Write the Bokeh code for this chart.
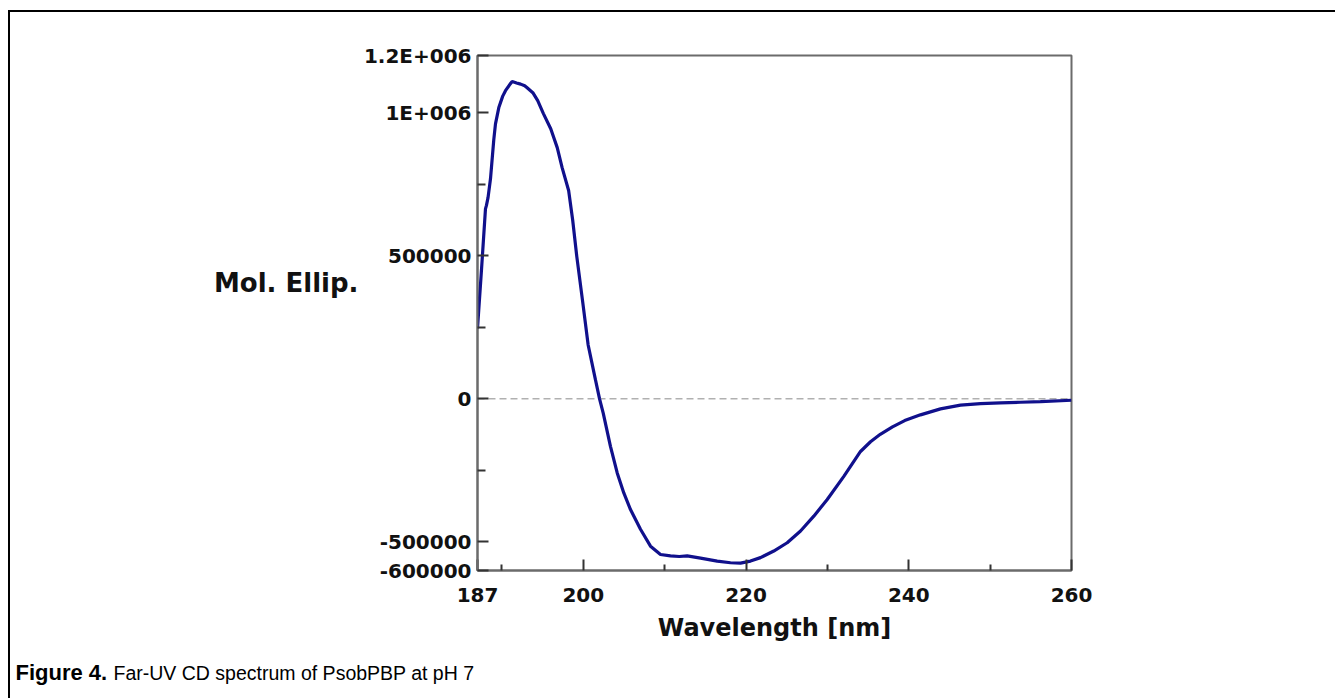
from bokeh.plotting import figure
from bokeh.layouts import column, row
from bokeh.models import Range1d, FixedTicker, Label, Span
from bokeh.embed import file_html
from bokeh.resources import INLINE

# ---- data ----
wavelength = [187.0, 187.5, 187.98, 188.1, 188.3, 188.6, 189.0, 189.21, 189.62, 190.1,
              190.44, 191.0, 191.26, 191.8, 192.3, 192.8, 193.1, 193.8, 194.4, 195.1,
              196.0, 196.8, 197.4, 198.2, 198.7, 199.2, 199.9, 200.6, 201.5, 202.0,
              202.45, 203.34, 204.17, 204.98, 205.8, 207.03, 208.26, 209.49, 210.72, 211.8,
              212.77, 214.41, 216.46, 218.09, 219.32, 220.55, 221.78, 223.41, 225.06, 226.7,
              228.33, 229.98, 232.02, 234.07, 235.3, 236.5, 238.0, 239.5, 241.44, 243.9,
              246.36, 248.82, 251.27, 253.73, 256.19, 260.0]
mol_ellip = [246000, 455000, 664000, 676000, 704000, 770000, 905000, 961000, 1018000, 1058000,
             1077000, 1100000, 1109000, 1104000, 1100000, 1094000, 1087000, 1070000, 1042000, 997000,
             944000, 878000, 808000, 728000, 624000, 498000, 345000, 188000, 66000, 0,
             -50000, -166000, -259000, -329000, -387000, -456000, -515000, -544000, -549000, -551000,
             -549000, -557000, -567000, -573000, -574000, -567000, -555000, -532000, -503000, -462000,
             -410000, -352000, -271000, -184000, -150000, -124000, -98000, -76000, -56000, -35000,
             -22000, -17000, -14000, -12000, -10000, -5000]

x_major_ticks = [187, 200, 220, 240, 260]
x_minor_ticks = [190, 210, 230, 250]
y_major_ticks = [-600000, -500000, 0, 500000, 1000000, 1200000]
y_minor_ticks = [-250000, 250000, 750000]
y_tick_labels = ["-600000", "-500000", "0", "500000", "1E+006", "1.2E+006"]

x_title = "Wavelength [nm]"
y_title = "Mol. Ellip."
caption_bold = "Figure 4."
caption_text = "Far-UV CD spectrum of PsobPBP at pH 7"

X0, X1 = 187, 260
Y0, Y1 = -600000, 1200000

# ---- page geometry ----
OFF_X, OFF_Y = 10, 12                  # content origin on the page (margin + border)
FL, FR, FT, FB = 477, 1071, 55, 570    # chart frame edges on the page
W = 1325                               # total content width
YW = 350                               # width of the strip holding the y title
H_MAIN, H_CAP = 640, 46
PW = W - YW
P_LEFT = OFF_X + YW                    # page x of the chart canvas

# ---- left strip with the horizontal y title ----
yfig = figure(width=YW, height=H_MAIN, output_backend="svg", toolbar_location=None,
              x_axis_type=None, y_axis_type=None, x_range=Range1d(0, 1), y_range=Range1d(0, 1),
              min_border=0, outline_line_color=None)
yfig.frame_align = False
yfig.add_layout(Label(x=358 - OFF_X, y=OFF_Y + H_MAIN - 282, x_units="screen", y_units="screen",
                      text=y_title, text_font="DejaVu Sans", text_font_style="bold",
                      text_font_size="26px", text_color="#111111",
                      text_align="right", text_baseline="middle"))

# ---- chart ----
p = figure(width=PW, height=H_MAIN, output_backend="svg", toolbar_location=None,
           x_range=Range1d(X0, X1), y_range=Range1d(Y0, Y1))
p.frame_align = False
p.min_border_left = FL - P_LEFT
p.min_border_top = FT - OFF_Y
p.min_border_right = PW - (FR - P_LEFT)
p.min_border_bottom = H_MAIN - (FB - OFF_Y)

p.xgrid.visible = False
p.ygrid.visible = False
p.outline_line_color = "#6b6b6b"
p.outline_line_width = 2

p.add_layout(Span(location=0, dimension="width", line_color="#8a8a8a",
                  line_width=1, line_dash="7 4", level="underlay"))

p.line(wavelength, mol_ellip, line_color="#10108c", line_width=3.2)

xa = p.xaxis[0]
xa.ticker = FixedTicker(ticks=x_major_ticks, minor_ticks=x_minor_ticks)
xa.axis_line_color = "#6b6b6b"
xa.axis_line_width = 2
xa.major_tick_in = 11
xa.major_tick_out = 0
xa.minor_tick_in = 6
xa.minor_tick_out = 0
xa.major_tick_line_color = "#333333"
xa.minor_tick_line_color = "#333333"
xa.major_tick_line_width = 2
xa.minor_tick_line_width = 2
xa.major_label_text_font = "DejaVu Sans"
xa.major_label_text_font_style = "bold"
xa.major_label_text_font_size = "20px"
xa.major_label_text_color = "#111111"
xa.major_label_standoff = 17
xa.axis_label = x_title
xa.axis_label_text_font = "DejaVu Sans"
xa.axis_label_text_font_style = "bold"
xa.axis_label_text_font_size = "24px"
xa.axis_label_text_color = "#111111"
xa.axis_label_standoff = 9

ya = p.yaxis[0]
ya.ticker = FixedTicker(ticks=y_major_ticks, minor_ticks=y_minor_ticks)
ya.major_label_overrides = {v: s for v, s in zip(y_major_ticks, y_tick_labels)}
ya.axis_line_color = "#6b6b6b"
ya.axis_line_width = 2
ya.major_tick_in = 11
ya.major_tick_out = 0
ya.minor_tick_in = 8
ya.minor_tick_out = 0
ya.major_tick_line_color = "#333333"
ya.minor_tick_line_color = "#333333"
ya.major_tick_line_width = 2
ya.minor_tick_line_width = 2
ya.major_label_text_font = "DejaVu Sans"
ya.major_label_text_font_style = "bold"
ya.major_label_text_font_size = "20px"
ya.major_label_text_color = "#111111"
ya.major_label_standoff = 6

# ---- caption strip ----
cap = figure(width=W, height=H_CAP, output_backend="svg", toolbar_location=None,
             x_axis_type=None, y_axis_type=None, x_range=Range1d(0, 1), y_range=Range1d(0, 1),
             min_border=0, outline_line_color=None)
cap.frame_align = False
CAP_Y = OFF_Y + H_MAIN + H_CAP - 672
cap.add_layout(Label(x=15 - OFF_X, y=CAP_Y, x_units="screen", y_units="screen", text=caption_bold,
                     text_font="Liberation Sans", text_font_style="bold", text_font_size="22px",
                     text_color="#000000", text_align="left", text_baseline="middle"))
cap.add_layout(Label(x=113 - OFF_X, y=CAP_Y, x_units="screen", y_units="screen", text=caption_text,
                     text_font="Liberation Sans", text_font_style="normal", text_font_size="19.5px",
                     text_color="#000000", text_align="left", text_baseline="middle"))

layout = column(row(yfig, p, spacing=0), cap, spacing=0)
layout.styles = {"margin-left": "8px", "margin-top": "10px",
                 "border-top": "2px solid #000", "border-left": "2px solid #000"}

open("out.html", "w").write(file_html(layout, INLINE))
